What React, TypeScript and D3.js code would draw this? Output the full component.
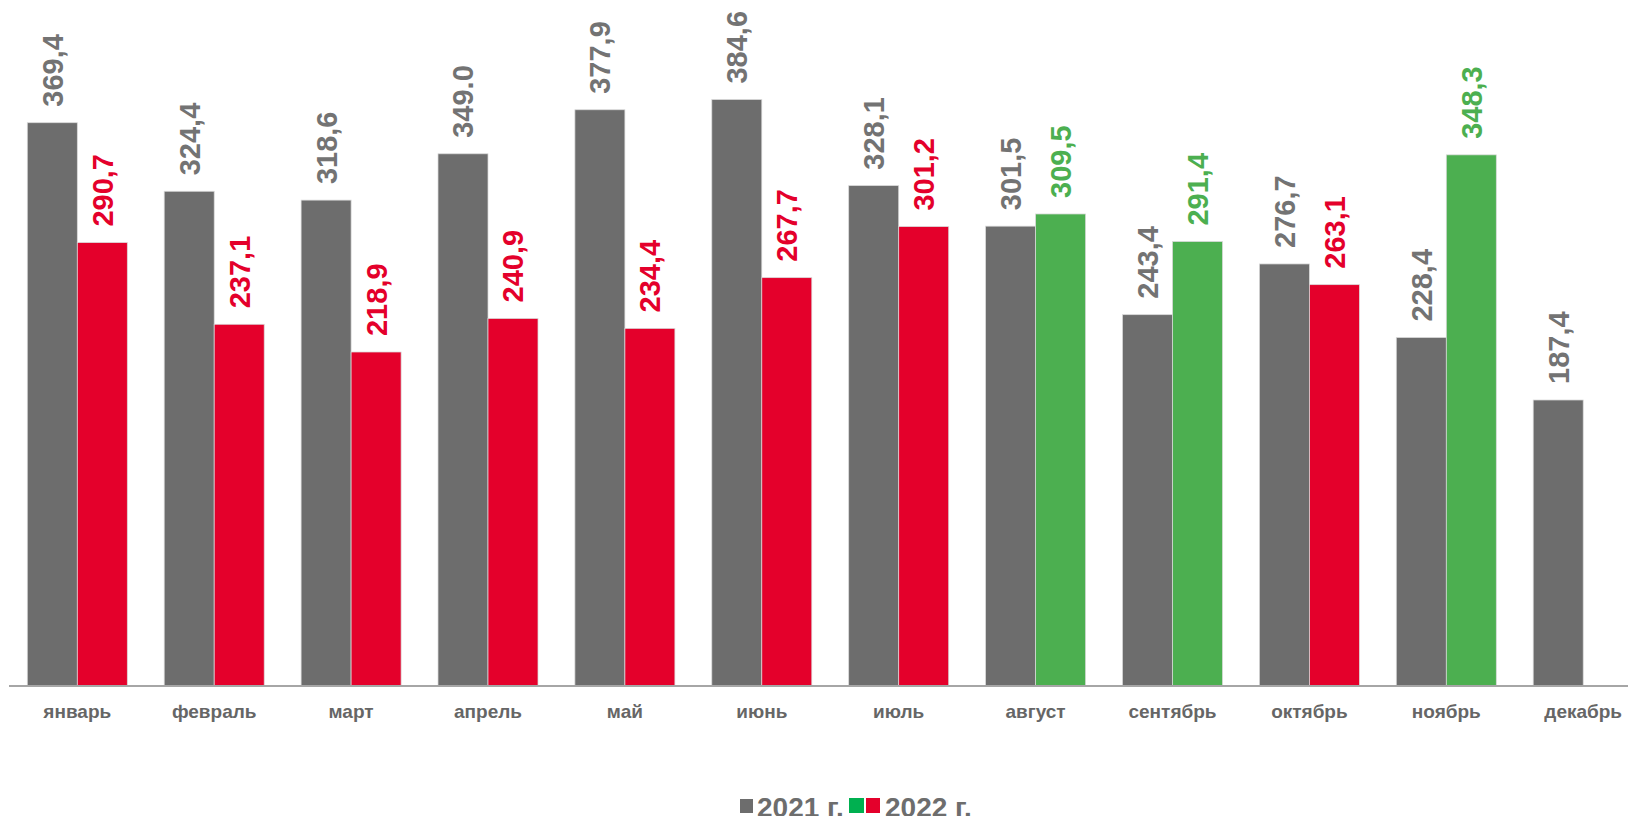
import React from "react";
import * as d3 from "d3";

const months = ["январь", "февраль", "март", "апрель", "май", "июнь", "июль", "август", "сентябрь", "октябрь", "ноябрь", "декабрь"];
const values2021 = [369.4, 324.4, 318.6, 349.0, 377.9, 384.6, 328.1, 301.5, 243.4, 276.7, 228.4, 187.4];
const values2022: (number | null)[] = [290.7, 237.1, 218.9, 240.9, 234.4, 267.7, 301.2, 309.5, 291.4, 263.1, 348.3, null];
const labels2021 = ["369,4", "324,4", "318,6", "349.0", "377,9", "384,6", "328,1", "301,5", "243,4", "276,7", "228,4", "187,4"];
const labels2022 = ["290,7", "237,1", "218,9", "240,9", "234,4", "267,7", "301,2", "309,5", "291,4", "263,1", "348,3", ""];
const seriesNames = ["2021 г.", "2022 г."];

const W = 1628;
const H = 816;
const GRAY = "#6d6d6d";
const RED = "#e4002b";
const GREEN = "#4caf50";
const FONT = "'Liberation Sans', Arial, sans-serif";

export default function App() {
  const baseY = 685.5;
  const pxPerUnit = 1.5235;
  const y = d3.scaleLinear().domain([0, 450]).range([baseY, baseY - 450 * pxPerUnit]);
  const step = 136.9;
  const x0 = d3.scaleBand<string>().domain(months).range([8.85, 8.85 + step * months.length]).padding(0);
  const x1 = d3.scaleBand<string>().domain(["2021", "2022"]).range([18.45, 118.45]).padding(0);
  const fs = 29;

  const bars: React.ReactNode[] = [];
  const labels: React.ReactNode[] = [];
  months.forEach((m, i) => {
    const gx = x0(m)!;
    const v1 = values2021[i];
    const bx1 = gx + x1("2021")!;
    bars.push(
      <rect key={"a" + i} x={bx1} y={y(v1)} width={x1.bandwidth()} height={baseY - y(v1)} fill={GRAY} stroke="#d9d9d9" strokeWidth={0.75} />
    );
    const cx1 = bx1 + x1.bandwidth() / 2;
    const ty1 = y(v1) - 16;
    labels.push(
      <text key={"la" + i} transform={`translate(${cx1 + 0.36 * fs},${ty1}) rotate(-90)`} fontSize={fs} fontWeight="bold" fill="#737373" fontFamily={FONT}>
        {labels2021[i]}
      </text>
    );
    const v2 = values2022[i];
    if (v2 != null) {
      const col = v2 > v1 ? GREEN : RED;
      const bx2 = gx + x1("2022")!;
      bars.push(
        <rect key={"b" + i} x={bx2} y={y(v2)} width={x1.bandwidth()} height={baseY - y(v2)} fill={col} stroke="#d9d9d9" strokeWidth={0.75} />
      );
      const cx2 = bx2 + x1.bandwidth() / 2;
      labels.push(
        <text key={"lb" + i} transform={`translate(${cx2 + 0.36 * fs},${y(v2) - 16}) rotate(-90)`} fontSize={fs} fontWeight="bold" fill={col} fontFamily={FONT}>
          {labels2022[i]}
        </text>
      );
    }
  });

  return (
    <svg width={W} height={H} style={{ position: "absolute", left: 0, top: 0, background: "#fff" }}>
      <rect x={0} y={0} width={W} height={H} fill="#fff" />
      {bars}
      <line x1={9} x2={W} y1={baseY + 0.5} y2={baseY + 0.5} stroke="#a6a6a6" strokeWidth={2} />
      {labels}
      {months.map((m) => (
        <text key={m} x={x0(m)! + step / 2} y={718} textAnchor="middle" fontSize={19} fontWeight="bold" fill="#666" fontFamily={FONT}>
          {m}
        </text>
      ))}
      <g fontFamily={FONT} fontWeight="bold" fontSize={28} fill="#6d6d6d">
        <rect x={740} y={799} width={13} height={14} fill={GRAY} />
        <text x={757} y={817}>{seriesNames[0]}</text>
        <rect x={849} y={798} width={15} height={15} fill="#00b050" />
        <rect x={866} y={798} width={14} height={15} fill={RED} />
        <text x={885} y={817}>{seriesNames[1]}</text>
      </g>
    </svg>
  );
}
